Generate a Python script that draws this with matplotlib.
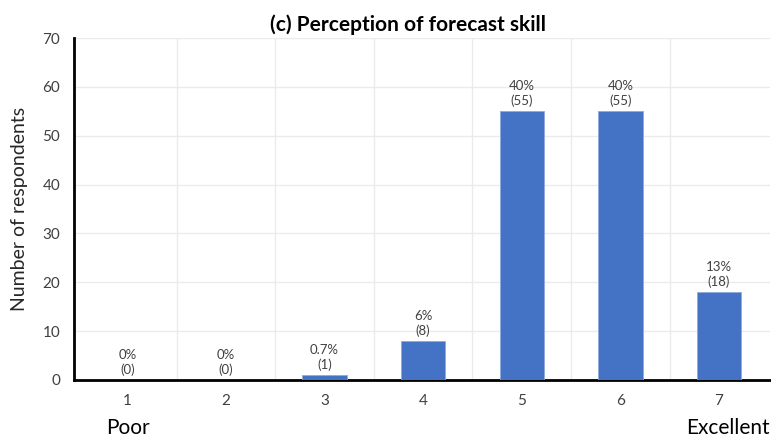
import matplotlib
matplotlib.use("Agg")
import matplotlib.pyplot as plt

categories = ["1", "2", "3", "4", "5", "6", "7"]
counts = [0, 0, 1, 8, 55, 55, 18]
pct_labels = ["0%", "0%", "0.7%", "6%", "40%", "40%", "13%"]
title = "(c) Perception of forecast skill"
ylabel = "Number of respondents"

plt.rcParams['font.family'] = ['Lato', 'DejaVu Sans']

fig = plt.figure(figsize=(7.71, 4.42), dpi=100)
ax = fig.add_axes([0.096, 0.1403, 0.903, 0.7737])

x = list(range(1, len(categories) + 1))
bars = ax.bar(x, counts, width=0.45, color="#4472C4", edgecolor="#8FAADC", linewidth=0.6, zorder=3)

for xi, c, p in zip(x, counts, pct_labels):
    ax.annotate(f"{p}\n({c})", xy=(xi, c), xytext=(0, 3), textcoords="offset points",
                ha="center", va="bottom", fontsize=9.5, color="#404040", linespacing=1.2)

ax.set_xlim(0.46, 7.52)
ax.set_ylim(0, 70)
ax.set_yticks(range(0, 71, 10))
ax.set_xticks(x)
ax.set_xticklabels(categories)
ax.set_xticks([i + 0.5 for i in range(1, 7)], minor=True)

ax.grid(axis="y", which="major", color="#EBEBEB", linewidth=1, zorder=0)
ax.grid(axis="x", which="minor", color="#EBEBEB", linewidth=1, zorder=0)
ax.tick_params(axis="both", which="both", length=0, labelsize=11, colors="#404040")
ax.tick_params(axis="x", pad=10)
ax.tick_params(axis="y", pad=10)

for s in ["top", "right"]:
    ax.spines[s].set_visible(False)
ax.spines["left"].set_linewidth(2)
ax.spines["bottom"].set_linewidth(2)
ax.spines["left"].set_color("black")
ax.spines["bottom"].set_color("black")

ax.set_ylabel(ylabel, fontsize=14, color="#262626", labelpad=10)
ax.set_title(title, fontsize=15, fontweight="bold", color="black", pad=5, x=0.48)

fig.text(128 / 771, 1 - 428 / 442, "Poor", ha="center", va="center", fontsize=15, color="black")
fig.text(770 / 771, 1 - 428 / 442, "Excellent", ha="right", va="center", fontsize=15, color="black")

fig.savefig("out.png", dpi=100)
